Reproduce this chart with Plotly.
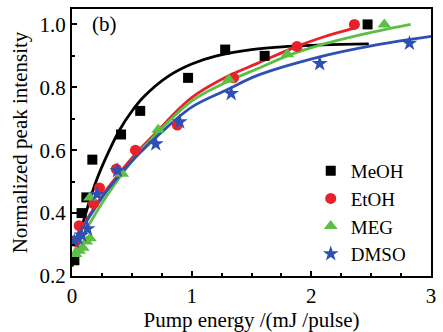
import plotly.graph_objects as go

# ---- measured data points ----
meoh_x = [0.02, 0.08, 0.12, 0.17, 0.41, 0.57, 0.97, 1.28, 1.61, 2.47]
meoh_y = [0.25, 0.40, 0.45, 0.57, 0.65, 0.725, 0.83, 0.92, 0.90, 1.00]

etoh_x = [0.03, 0.06, 0.18, 0.23, 0.37, 0.53, 0.88, 1.35, 1.88, 2.36]
etoh_y = [0.31, 0.36, 0.43, 0.48, 0.54, 0.60, 0.68, 0.83, 0.93, 1.00]

meg_x = [0.03, 0.06, 0.09, 0.12, 0.15, 0.15, 0.42, 0.72, 1.31, 1.80, 2.61]
meg_y = [0.27, 0.28, 0.29, 0.31, 0.32, 0.45, 0.525, 0.665, 0.825, 0.905, 1.00]

dmso_x = [0.02, 0.05, 0.08, 0.13, 0.21, 0.38, 0.70, 0.90, 1.33, 2.07, 2.82]
dmso_y = [0.31, 0.32, 0.33, 0.35, 0.46, 0.535, 0.62, 0.69, 0.78, 0.875, 0.94]

# ---- fitted curves ----
meoh_fx = [0, 0.05, 0.1, 0.2, 0.3, 0.4, 0.5, 0.6, 0.8, 1.0, 1.2, 1.5, 1.8, 2.1, 2.48]
meoh_fy = [0.23, 0.31, 0.38, 0.50, 0.59, 0.666, 0.724, 0.77, 0.834, 0.874, 0.899, 0.92, 0.93, 0.935, 0.938]

etoh_fx = [0, 0.1, 0.2, 0.3, 0.5, 0.7, 1.0, 1.3, 1.55, 1.88, 2.1, 2.36]
etoh_fy = [0.30, 0.365, 0.425, 0.48, 0.575, 0.655, 0.767, 0.835, 0.876, 0.93, 0.96, 0.988]

meg_fx = [0, 0.1, 0.2, 0.3, 0.5, 0.7, 1.0, 1.3, 1.55, 1.8, 2.1, 2.4, 2.83]
meg_fy = [0.265, 0.335, 0.40, 0.46, 0.565, 0.65, 0.756, 0.818, 0.859, 0.90, 0.937, 0.966, 1.0]

dmso_fx = [0, 0.1, 0.2, 0.3, 0.5, 0.7, 1.0, 1.3, 1.55, 2.07, 2.5, 3.0]
dmso_fy = [0.295, 0.36, 0.42, 0.475, 0.565, 0.64, 0.737, 0.793, 0.838, 0.897, 0.932, 0.962]

names = ["MeOH", "EtOH", "MEG", "DMSO"]
colors = ["#000000", "#e8212b", "#5cbf45", "#2e4fb3"]
symbols = ["square", "circle", "triangle-up", "star"]
sizes = [10, 11, 12, 12]

pts = [(meoh_x, meoh_y), (etoh_x, etoh_y), (meg_x, meg_y), (dmso_x, dmso_y)]
fits = [(meoh_fx, meoh_fy), (etoh_fx, etoh_fy), (meg_fx, meg_fy), (dmso_fx, dmso_fy)]

font = "Liberation Serif"
fs = 21

fig = go.Figure()
for (fx, fy), c in zip(fits, colors):
    fig.add_trace(go.Scatter(x=fx, y=fy, mode="lines", line=dict(color=c, width=2.8, shape="spline"),
                             showlegend=False, hoverinfo="skip"))
for (px, py), n, c, s, sz in zip(pts, names, colors, symbols, sizes):
    fig.add_trace(go.Scatter(x=px, y=py, mode="markers", name=n,
                             marker=dict(color=c, symbol=s, size=sz, line=dict(width=0))))

fig.add_annotation(x=0.27, y=1.0, xref="x", yref="y", text="(b)", showarrow=False,
                   font=dict(family=font, size=fs, color="black"))

fig.update_layout(
    width=443, height=332,
    margin=dict(l=72, r=9, t=7, b=55),
    paper_bgcolor="white", plot_bgcolor="white",
    font=dict(family=font, size=fs, color="black"),
    legend=dict(x=0.665, y=0.465, xanchor="left", yanchor="top", bgcolor="rgba(0,0,0,0)",
                itemwidth=30, font=dict(family=font, size=19), tracegroupgap=0),
)
fig.update_xaxes(range=[0, 3], dtick=1, tick0=0, showgrid=False, zeroline=False,
                 showline=True, linecolor="black", linewidth=2, mirror=True,
                 ticks="inside", ticklen=5, tickwidth=2, tickcolor="black",
                 minor=dict(dtick=0.25, ticks="inside", ticklen=3, tickwidth=2, tickcolor="black"),
                 title=dict(text="Pump energy /(mJ /pulse)", standoff=2, font=dict(family=font, size=fs)),
                 tickfont=dict(family=font, size=fs))
fig.update_yaxes(range=[0.2, 1.049], dtick=0.2, tick0=0.2, tickformat=".1f", showgrid=False, zeroline=False,
                 showline=True, linecolor="black", linewidth=2, mirror=True,
                 ticks="inside", ticklen=5, tickwidth=2, tickcolor="black",
                 minor=dict(dtick=0.1, ticks="inside", ticklen=3, tickwidth=2, tickcolor="black"),
                 title=dict(text="Normalized peak intensity", standoff=6, font=dict(family=font, size=fs)),
                 tickfont=dict(family=font, size=fs))

fig.write_html("out.html")
